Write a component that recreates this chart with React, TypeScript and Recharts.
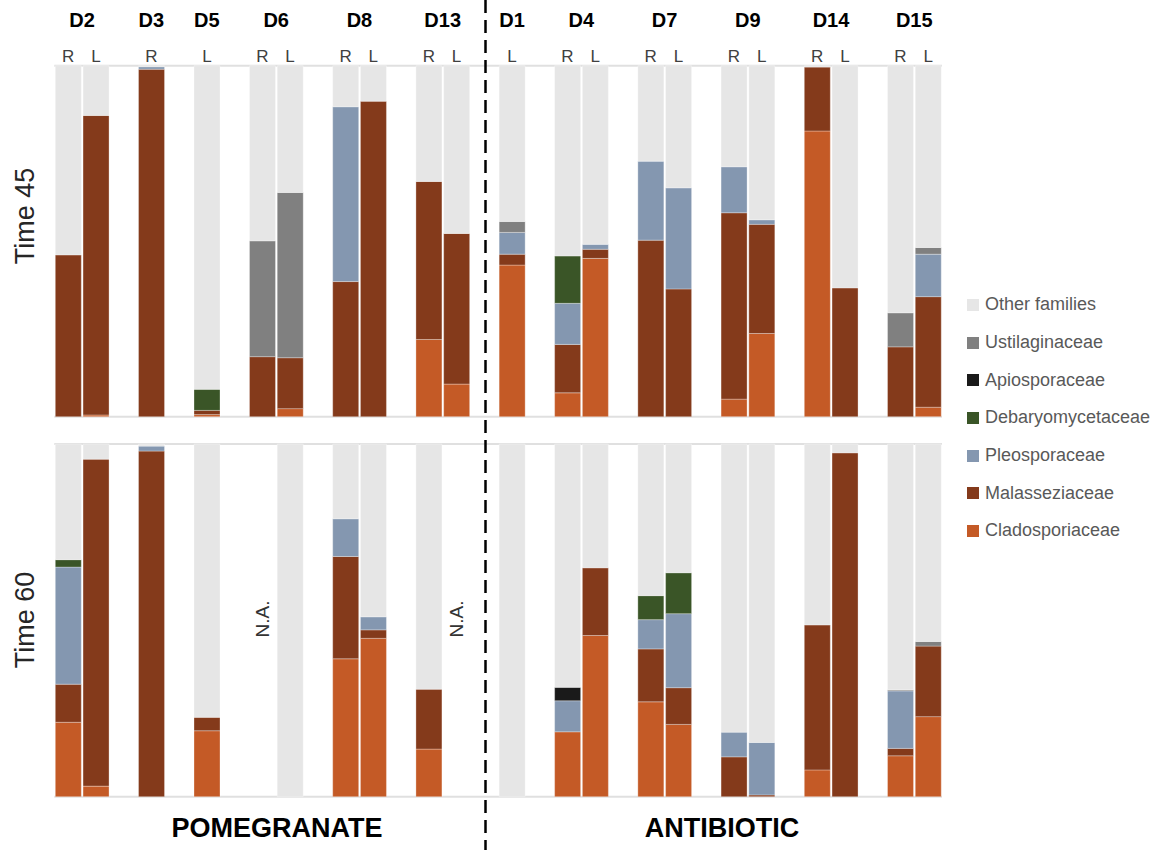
import { BarChart, Bar, XAxis, YAxis, CartesianGrid, Legend } from 'recharts';

// stacking order, bottom to top
const families = [
  'Cladosporiaceae',
  'Malasseziaceae',
  'Pleosporaceae',
  'Debaryomycetaceae',
  'Apiosporaceae',
  'Ustilaginaceae',
  'Other families',
];
const familyColors = ['#c45a26', '#843a1b', '#8497b0', '#3a5527', '#1a1a1a', '#808080', '#e6e6e6'];

const donors = ['D2', 'D3', 'D5', 'D6', 'D8', 'D13', 'D1', 'D4', 'D7', 'D9', 'D14', 'D15'];
const donorSides = [
  ['R', 'L'], ['R'], ['L'], ['R', 'L'], ['R', 'L'], ['R', 'L'],
  ['L'], ['R', 'L'], ['R', 'L'], ['R', 'L'], ['R', 'L'], ['R', 'L'],
];
const treatments = ['POMEGRANATE', 'ANTIBIOTIC'];
const timeLabels = ['Time 45', 'Time 60'];

// relative abundance (%), one value per sample in donor/side order
const clado45 = [0, 0.5, 0, 0.6, 0, 2.3, 0, 0, 22.0, 9.3, 43.2, 6.8, 45.1, 0, 0, 5.0, 23.7, 81.4, 0, 0, 2.7];
const mala45 = [46.1, 85.3, 99.0, 1.2, 17.1, 14.5, 38.5, 89.9, 45.0, 42.9, 3.1, 13.8, 2.6, 50.3, 36.4, 53.1, 31.1, 18.2, 36.7, 19.9, 31.5];
const pleo45 = [0, 0, 0.7, 0, 0, 0, 49.8, 0, 0, 0, 6.2, 11.7, 1.4, 22.5, 28.8, 13.1, 1.3, 0, 0, 0, 12.1];
const deba45 = [0, 0, 0, 6.0, 0, 0, 0, 0, 0, 0, 0, 13.5, 0, 0, 0, 0, 0, 0, 0, 0, 0];
const apio45 = [0, 0, 0, 0, 0, 0, 0, 0, 0, 0, 0, 0, 0, 0, 0, 0, 0, 0, 0, 0, 0];
const usti45 = [0, 0, 0, 0, 33.0, 47.1, 0, 0, 0, 0, 3.1, 0, 0, 0, 0, 0, 0, 0, 0, 9.7, 1.9];

// null = N.A.
const clado60 = [21.1, 3.0, 0, 18.7, null, 0, 39.1, 44.9, 13.5, null, 0, 18.4, 45.7, 26.9, 20.5, 0, 0, 7.6, 0, 11.6, 22.7];
const mala60 = [10.8, 92.7, 98.0, 3.8, null, 0, 29.0, 2.4, 17.0, null, 0, 0, 19.2, 15.0, 10.4, 11.3, 0.5, 41.1, 97.5, 2.1, 20.0];
const pleo60 = [33.2, 0, 1.4, 0, null, 0, 10.7, 3.7, 0, null, 0, 8.8, 0, 8.3, 21.0, 7.0, 14.9, 0, 0, 16.3, 0];
const deba60 = [2.1, 0, 0, 0, null, 0, 0, 0, 0, null, 0, 0, 0, 6.8, 11.6, 0, 0, 0, 0, 0, 0];
const apio60 = [0, 0, 0, 0, null, 0, 0, 0, 0, null, 0, 3.8, 0, 0, 0, 0, 0, 0, 0, 0, 0];
const usti60 = [0, 0, 0, 0, null, 0, 0, 0, 0, null, 0, 0, 0, 0, 0, 0, 0, 0, 0, 0.3, 1.3];

const yTicks = [0, 20, 40, 60, 80, 100];

const FONT = '"Liberation Sans", Arial, sans-serif';
const PLOT_LEFT = 54.3;
const PLOT_RIGHT = 942;
const SLOTS = 32;
const SLOT = (PLOT_RIGHT - PLOT_LEFT) / SLOTS;

// one row per sample, with an empty slot between donors
function buildRows(series: (number | null)[][]) {
  const rows: any[] = [];
  let s = 0;
  donors.forEach((donor, d) => {
    donorSides[d].forEach((side, i) => {
      const row: any = { key: `${donor}-${side}`, donor, side, first: i === 0, count: donorSides[d].length };
      const vals = series.map((arr) => arr[s]);
      if (vals[0] === null) {
        row.na = true;
      } else {
        let sum = 0;
        vals.forEach((v, k) => {
          row[families[k]] = v;
          sum += v as number;
        });
        row['Other families'] = 100 - sum;
      }
      rows.push(row);
      s++;
    });
    if (d < donors.length - 1) rows.push({ key: `gap-${d}` });
  });
  return rows;
}

const rows45 = buildRows([clado45, mala45, pleo45, deba45, apio45, usti45]);
const rows60 = buildRows([clado60, mala60, pleo60, deba60, apio60, usti60]);
const rowByKey: Record<string, any> = {};
rows45.forEach((r) => (rowByKey[r.key] = r));

function TopTick({ x, payload }: any) {
  const row = rowByKey[payload.value];
  if (!row || !row.side) return <g />;
  return (
    <g>
      <text x={x} y={56} textAnchor="middle" dominantBaseline="central" fontSize={17} fill="#404040" fontFamily={FONT}>
        {row.side}
      </text>
      {row.first && (
        <text
          x={x + ((row.count - 1) * SLOT) / 2}
          y={20}
          textAnchor="middle"
          dominantBaseline="central"
          fontSize={20}
          fontWeight="bold"
          fill="#000"
          fontFamily={FONT}
        >
          {row.donor}
        </text>
      )}
    </g>
  );
}

function NaTick({ x, payload }: any) {
  const row = rows60.find((r) => r.key === payload.value);
  if (!row || !row.na) return <g />;
  return (
    <text
      x={x}
      y={189}
      transform={`rotate(-90 ${x} 189)`}
      textAnchor="middle"
      dominantBaseline="central"
      fontSize={19}
      fill="#333"
      fontFamily={FONT}
    >
      N.A.
    </text>
  );
}

function AxisTitle({ text, cy }: any) {
  return (
    <text
      x={25}
      y={cy}
      transform={`rotate(-90 25 ${cy})`}
      textAnchor="middle"
      dominantBaseline="central"
      fontSize={27}
      fill="#262626"
      fontFamily={FONT}
    >
      {text}
    </text>
  );
}

function FamilyLegend({ payload }: any) {
  const items = [...(payload ?? [])].sort(
    (a: any, b: any) => families.indexOf(b.value) - families.indexOf(a.value)
  );
  return (
    <div style={{ fontFamily: FONT }}>
      {items.map((it: any) => (
        <div key={it.value} style={{ display: 'flex', alignItems: 'center', height: 37.7 }}>
          <span style={{ width: 12, height: 12, background: it.color, marginRight: 6, flexShrink: 0 }} />
          <span style={{ fontSize: 18, color: '#595959', whiteSpace: 'nowrap' }}>{it.value}</span>
        </div>
      ))}
    </div>
  );
}

function bars() {
  return families.map((f, i) => (
    <Bar
      key={f}
      dataKey={f}
      name={f}
      stackId="s"
      fill={familyColors[i]}
      stroke="#ffffff"
      strokeOpacity={0.3}
      strokeWidth={1}
      isAnimationActive={false}
    />
  ));
}

export default function App() {
  return (
    <div style={{ position: 'absolute', left: 0, top: 0, width: 1159, height: 850, background: '#fff' }}>
      <div style={{ position: 'absolute', left: 0, top: 0 }}>
        <BarChart
          width={1159}
          height={430}
          data={rows45}
          barSize={26}
          margin={{ top: 5.7, right: 1159 - PLOT_RIGHT, bottom: 13.3, left: 0 }}
        >
          <CartesianGrid vertical={false} stroke="#e0e0e0" strokeWidth={2} />
          <XAxis
            dataKey="key"
            orientation="top"
            height={60}
            axisLine={false}
            tickLine={false}
            interval={0}
            tick={<TopTick />}
          />
          <YAxis
            type="number"
            domain={[0, 100]}
            ticks={yTicks}
            width={PLOT_LEFT}
            axisLine={false}
            tickLine={false}
            tick={false}
            label={<AxisTitle text={timeLabels[0]} cy={216} />}
          />
          <Legend
            layout="vertical"
            align="center"
            verticalAlign="middle"
            content={<FamilyLegend />}
            wrapperStyle={{ left: 967, top: 286, width: 192 }}
          />
          {bars()}
        </BarChart>
      </div>
      <div style={{ position: 'absolute', left: 0, top: 430 }}>
        <BarChart
          width={1159}
          height={420}
          data={rows60}
          barSize={26}
          margin={{ top: 14, right: 1159 - PLOT_RIGHT, bottom: 52.3, left: 0 }}
        >
          <CartesianGrid vertical={false} stroke="#e0e0e0" strokeWidth={2} />
          <XAxis
            dataKey="key"
            height={1}
            axisLine={false}
            tickLine={false}
            interval={0}
            tick={<NaTick />}
          />
          <YAxis
            type="number"
            domain={[0, 100]}
            ticks={yTicks}
            width={PLOT_LEFT}
            axisLine={false}
            tickLine={false}
            tick={false}
            label={<AxisTitle text={timeLabels[1]} cy={190} />}
          />
          {bars()}
        </BarChart>
      </div>
      <svg
        width={1159}
        height={850}
        style={{ position: 'absolute', left: 0, top: 0, pointerEvents: 'none' }}
      >
        <line x1={485.5} y1={0} x2={485.5} y2={850} stroke="#000" strokeWidth={2.5} strokeDasharray="13 7" />
        <text x={277} y={828} textAnchor="middle" dominantBaseline="central" fontSize={27} fontWeight="bold" fontFamily={FONT}>
          {treatments[0]}
        </text>
        <text x={722} y={828} textAnchor="middle" dominantBaseline="central" fontSize={27} fontWeight="bold" fontFamily={FONT}>
          {treatments[1]}
        </text>
      </svg>
    </div>
  );
}
